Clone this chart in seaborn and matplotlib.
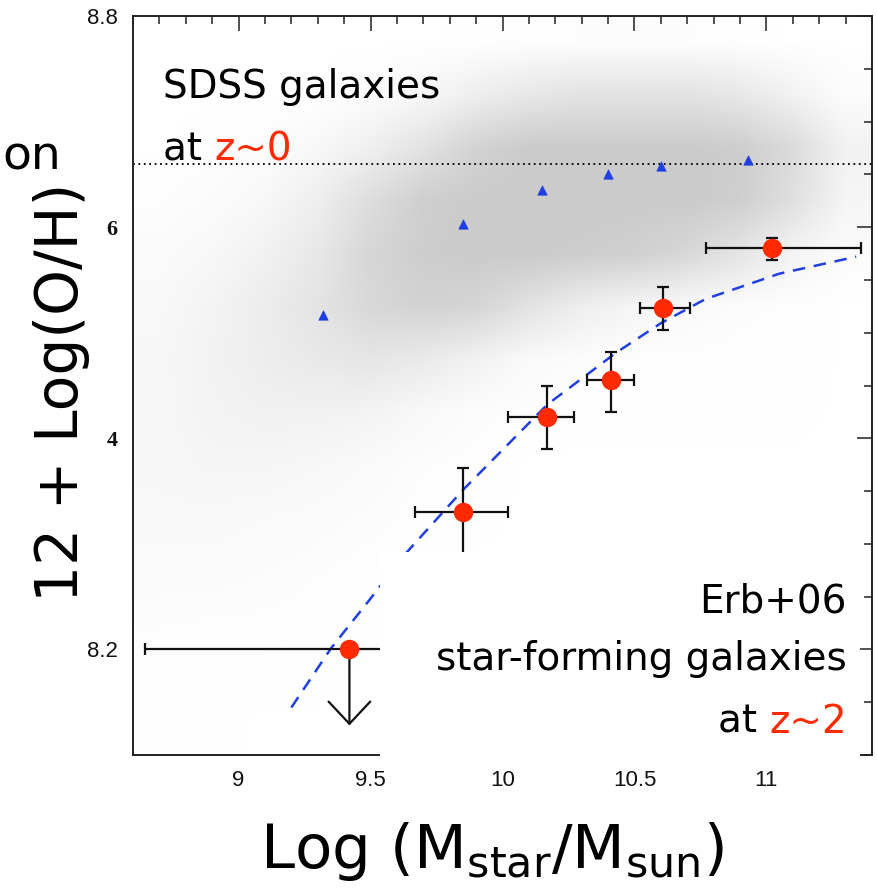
import matplotlib
matplotlib.use('Agg')
import matplotlib.pyplot as plt
from matplotlib.colors import LinearSegmentedColormap
from matplotlib.patches import Rectangle
from matplotlib.ticker import MultipleLocator
import numpy as np
import pandas as pd
import seaborn as sns

# medianas SDSS (triangulos azuis)
sdss_mass = [9.32, 9.85, 10.15, 10.40, 10.60, 10.93]
sdss_oh = [8.517, 8.603, 8.635, 8.650, 8.658, 8.664]

# Erb+06, galaxias z~2 (pontos vermelhos com barras de erro)
erb_mass = [9.85, 10.17, 10.41, 10.61, 11.02]
erb_oh = [8.33, 8.42, 8.455, 8.523, 8.58]
erb_xlo = [0.18, 0.15, 0.09, 0.09, 0.25]
erb_xhi = [0.17, 0.10, 0.09, 0.10, 0.34]
erb_ylo = [0.042, 0.03, 0.03, 0.02, 0.011]
erb_yhi = [0.042, 0.03, 0.027, 0.02, 0.01]

# bin de menor massa: limite superior
lim_mass = [9.42]
lim_oh = [8.20]
lim_xlo = [0.775]
lim_xhi = [0.30]
lim_arrow = [0.072]

# curva ajustada (tracejada azul)
fit_mass = [9.20, 9.35, 9.49, 9.63, 9.85, 10.17, 10.43, 10.60, 10.77, 11.05, 11.34]
fit_oh = [8.145, 8.201, 8.245, 8.290, 8.351, 8.432, 8.481, 8.509, 8.532, 8.556, 8.572]

zsun_oh = 8.66  # linha pontilhada

# densidade aproximada da nuvem SDSS (linhas de baixo para cima)
grid_mass = [8.7, 8.9, 9.1, 9.3, 9.5, 9.7, 9.9, 10.1, 10.3, 10.5, 10.7, 10.9, 11.1, 11.3]
grid_oh = [8.125, 8.175, 8.225, 8.275, 8.325, 8.375, 8.425, 8.475, 8.525, 8.575, 8.625, 8.675, 8.725, 8.775]
sdss_density = [
    [0.01, 0.01, 0.00, 0.00, 0.00, 0.00, 0.00, 0.00, 0.00, 0.00, 0.00, 0.00, 0.00, 0.00],
    [0.02, 0.02, 0.01, 0.01, 0.00, 0.00, 0.00, 0.00, 0.00, 0.00, 0.00, 0.00, 0.00, 0.00],
    [0.04, 0.03, 0.03, 0.02, 0.01, 0.00, 0.00, 0.00, 0.00, 0.00, 0.00, 0.00, 0.00, 0.00],
    [0.08, 0.08, 0.06, 0.04, 0.02, 0.00, 0.00, 0.00, 0.00, 0.00, 0.00, 0.00, 0.00, 0.00],
    [0.12, 0.12, 0.10, 0.08, 0.05, 0.02, 0.01, 0.00, 0.00, 0.00, 0.00, 0.00, 0.00, 0.00],
    [0.15, 0.18, 0.18, 0.14, 0.09, 0.04, 0.02, 0.00, 0.00, 0.00, 0.00, 0.00, 0.00, 0.00],
    [0.15, 0.22, 0.26, 0.26, 0.22, 0.12, 0.05, 0.03, 0.01, 0.01, 0.01, 0.01, 0.01, 0.00],
    [0.15, 0.24, 0.34, 0.42, 0.48, 0.40, 0.25, 0.10, 0.05, 0.02, 0.02, 0.02, 0.02, 0.00],
    [0.12, 0.22, 0.35, 0.52, 0.75, 0.85, 0.80, 0.55, 0.32, 0.18, 0.10, 0.05, 0.02, 0.00],
    [0.08, 0.14, 0.26, 0.45, 0.78, 0.95, 1.00, 1.00, 0.95, 0.90, 0.75, 0.50, 0.22, 0.06],
    [0.03, 0.07, 0.14, 0.32, 0.65, 0.92, 1.00, 1.00, 1.00, 1.00, 1.00, 0.92, 0.60, 0.18],
    [0.00, 0.02, 0.05, 0.14, 0.30, 0.55, 0.85, 1.00, 1.00, 1.00, 1.00, 0.95, 0.70, 0.25],
    [0.00, 0.00, 0.00, 0.00, 0.05, 0.15, 0.32, 0.45, 0.55, 0.55, 0.55, 0.45, 0.25, 0.06],
    [0.00, 0.00, 0.00, 0.00, 0.00, 0.00, 0.01, 0.03, 0.04, 0.04, 0.04, 0.02, 0.00, 0.00],
]

# rotulos visiveis do eixo y (o "8." de 8.6 e 8.4 fica escondido pelo titulo)
ytick_vals = [8.2, 8.4, 8.6, 8.8]
ytick_labels = ['8.2', '4', '6', '8.8']
xtick_vals = [9, 9.5, 10, 10.5, 11]
xtick_labels = ['9', '9.5', '10', '10.5', '11']

red = '#ff2a00'
blue = '#1f3fe0'

sns.set_style('white')
plt.rcParams['font.family'] = ['DejaVu Sans']
plt.rcParams['text.color'] = 'black'
plt.rcParams['axes.labelcolor'] = 'black'

fig = plt.figure(figsize=(8.77, 8.93), dpi=100)
ax = fig.add_axes([133 / 877, 1 - 755 / 893, 739 / 877, 739 / 893])

# nuvem SDSS
cmap = LinearSegmentedColormap.from_list('cloud', ['#ffffff', '#cbcbcb'])
ax.imshow(np.array(sdss_density), origin='lower', aspect='auto', cmap=cmap,
          vmin=0, vmax=1, interpolation='bilinear', zorder=0,
          extent=[grid_mass[0] - 0.1, grid_mass[-1] + 0.1, grid_oh[0] - 0.025, grid_oh[-1] + 0.025])

ax.axhline(zsun_oh, color='k', ls=(0, (1, 2)), lw=1.3, zorder=1)

df_sdss = pd.DataFrame({'mass': sdss_mass, 'oh': sdss_oh})
sns.scatterplot(data=df_sdss, x='mass', y='oh', marker='^', s=45, color=blue,
                edgecolor=blue, ax=ax, zorder=3)

df_fit = pd.DataFrame({'mass': fit_mass, 'oh': fit_oh})
sns.lineplot(data=df_fit, x='mass', y='oh', color=blue, lw=1.8, ls=(0, (5, 3.5)),
             estimator=None, sort=False, ax=ax, zorder=2)

ax.errorbar(erb_mass, erb_oh, xerr=[erb_xlo, erb_xhi], yerr=[erb_ylo, erb_yhi],
            fmt='o', ms=13, color=red, mec=red, ecolor='#111111', elinewidth=1.6,
            capsize=4, capthick=1.6, zorder=3)
ax.errorbar(lim_mass, lim_oh, xerr=[lim_xlo, lim_xhi], fmt='o', ms=13, color=red,
            mec=red, ecolor='#111111', elinewidth=1.6, capsize=4, capthick=1.6, zorder=3)
ax.annotate('', xy=(lim_mass[0], lim_oh[0] - lim_arrow[0]), xytext=(lim_mass[0], lim_oh[0]),
            arrowprops=dict(arrowstyle='->,head_length=0.8,head_width=0.75', color='#111111',
                            lw=1.6, mutation_scale=20, shrinkA=0, shrinkB=0), zorder=2)

ax.set_xlim(8.6, 11.4)
ax.set_ylim(8.1, 8.8)
ax.set_xticks(xtick_vals, labels=xtick_labels)
ax.set_yticks(ytick_vals, labels=ytick_labels)
ax.xaxis.set_minor_locator(MultipleLocator(0.1))
ax.yaxis.set_minor_locator(MultipleLocator(0.05))
ax.tick_params(which='both', direction='in', top=True, right=True, width=1.1,
               color='#222222', labelsize=16, pad=11, labelcolor='#111111')
ax.tick_params(which='major', length=11)
ax.tick_params(which='minor', length=6)
for lbl in ax.get_xticklabels() + ax.get_yticklabels():
    lbl.set_family('Liberation Sans')
    if lbl.get_text() in ('4', '6'):
        lbl.set_family('Liberation Serif')
        lbl.set_weight('bold')
for sp in ax.spines.values():
    sp.set_linewidth(1.4)
    sp.set_color('#222222')

# caixa branca que cobre o canto inferior direito
ax.add_patch(Rectangle((0.334, -0.008), 0.65, 0.283, transform=ax.transAxes,
                       facecolor='white', edgecolor='none', clip_on=False, zorder=5))

# textos
ax.text(0.041, 0.889, 'SDSS galaxies', transform=ax.transAxes, fontsize=28,
        va='baseline', zorder=6)
t2 = ax.text(0.041, 0.805, 'at ', transform=ax.transAxes, fontsize=28,
             va='baseline', zorder=6)
ax.annotate('z~0', xy=(1, 0), xycoords=t2, fontsize=28, color=red, va='bottom', zorder=6)

ax.text(0.966, 0.1935, 'Erb+06', transform=ax.transAxes, fontsize=28, ha='right',
        va='baseline', zorder=6)
ax.text(0.966, 0.115, 'star-forming galaxies', transform=ax.transAxes, fontsize=28,
        ha='right', va='baseline', zorder=6)
t3 = ax.text(0.966, 0.030, 'z~2', transform=ax.transAxes, fontsize=28, ha='right',
             va='baseline', color=red, zorder=6)
ax.annotate('at ', xy=(0, 0), xycoords=t3, fontsize=28, ha='right', va='bottom', zorder=6)

ax.set_xlabel(r'Log (M$_{\mathrm{star}}$/M$_{\mathrm{sun}}$)', fontsize=44)
ax.xaxis.set_label_coords(0.486, -0.088)
ax.set_ylabel('12 + Log(O/H)', fontsize=42)
ax.yaxis.set_label_coords(-0.058, 0.491)

fig.text(2 / 877, 1 - 170 / 893, 'on', fontsize=34, ha='left', va='baseline')

fig.savefig('out.png', dpi=100)
